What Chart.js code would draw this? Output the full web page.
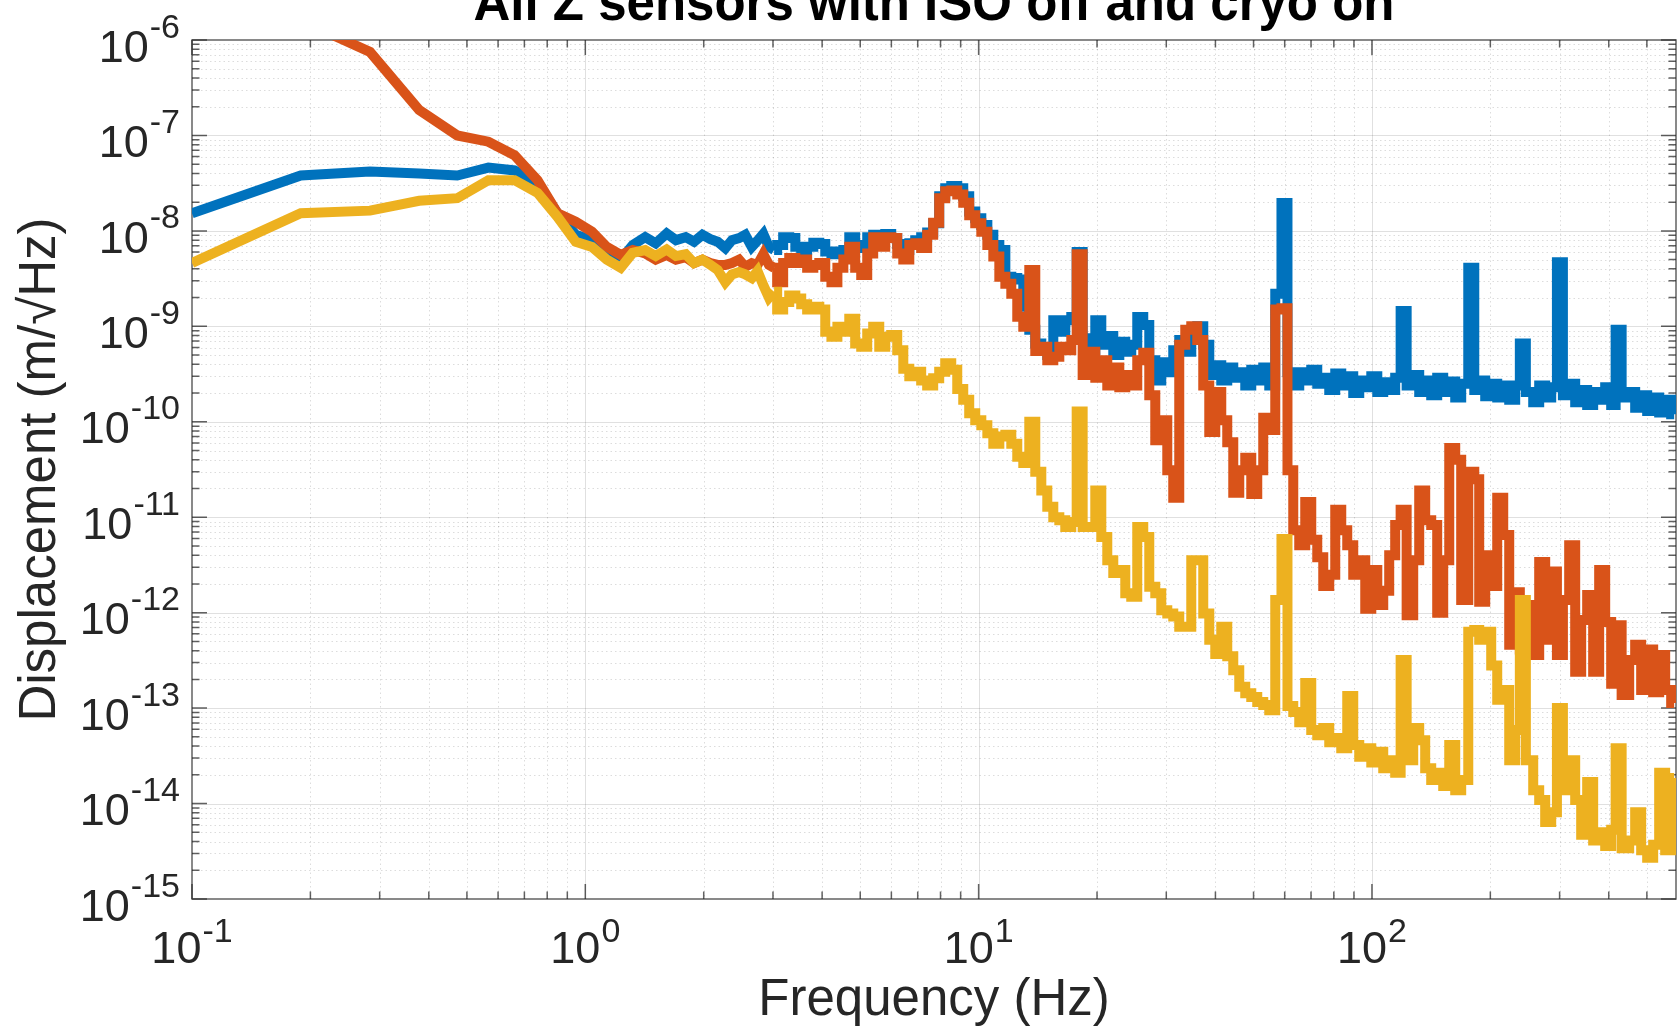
<!DOCTYPE html>
<html>
<head>
<meta charset="utf-8">
<title>All Z sensors with ISO off and cryo on</title>
<script src="https://cdn.jsdelivr.net/npm/chart.js@4.4.1/dist/chart.umd.min.js"></script>
<style>
  html, body { margin: 0; padding: 0; background: #ffffff; }
  #plot { display: block; }
</style>
</head>
<body>
<canvas id="plot" width="1678" height="1029"></canvas>
<script>
// Amplitude spectral density of the three vertical (Z) sensors, ISO off, cryo on.

const freqHz = [
  0.1, 0.189, 0.2835, 0.378, 0.4725, 0.567, 0.661, 0.756, 0.85, 0.945,
  1.04, 1.134, 1.23, 1.32, 1.42, 1.51, 1.61, 1.70, 1.80, 1.89,
  1.985, 2.08, 2.17, 2.27, 2.36, 2.46, 2.55, 2.65, 2.74, 2.835,
  2.93, 3.02,
  3.13, 3.24, 3.36, 3.48, 3.60, 3.73, 3.87, 4.00, 4.15, 4.30,
  4.45, 4.61, 4.77, 4.94, 5.12, 5.30, 5.49, 5.69, 5.89, 6.10,
  6.32, 6.55, 6.78, 7.02, 7.27, 7.53, 7.80, 8.08, 8.37, 8.67,
  8.98, 9.30, 9.63, 9.98, 10.34, 10.71, 11.09, 11.49, 11.90, 12.32,
  12.76, 13.22, 13.69, 14.18, 14.69, 15.21, 15.76, 16.32, 16.90, 17.51,
  18.0, 18.78, 19.45, 20.15, 20.87, 21.61, 22.39, 23.19, 24.01, 24.87,
  25.76, 26.68, 27.64, 28.62, 29.65, 30.71, 31.80, 32.94, 34.12, 35.34,
  36.60, 37.91, 39.27, 40.67, 42.12, 43.63, 45.19, 46.80, 48.48, 50.21,
  52.00, 53.86, 55.79, 57.78, 60.0, 61.99, 64.20, 66.50, 68.87, 71.34,
  73.89, 76.53, 79.26, 82.10, 85.03, 88.07, 91.22, 94.48, 97.86, 101.4,
  105.0, 108.7, 112.6, 116.6, 120.0, 125.1, 129.6, 134.2, 139.0, 144.0,
  149.1, 154.5, 160.0, 165.7, 171.6, 180.0, 184.1, 190.7, 197.5, 204.6,
  211.9, 219.5, 227.3, 235.4, 240.0, 252.6, 261.6, 270.9, 280.6, 290.7,
  300.0, 311.8, 322.9, 334.5, 346.4, 358.8, 371.6, 384.9, 398.7, 412.9,
  420.0, 443.0, 458.8, 475.2, 492.2, 509.8, 528.0, 546.9, 566.4, 586.7
];

// Sensor Z1 displacement, m/sqrt(Hz)
const zSensor1 = [
  1.53e-8, 3.8e-8, 4.2e-8, 4.0e-8, 3.8e-8, 4.6e-8, 4.3e-8, 3.15e-8, 1.53e-8, 9.1e-9,
  8.0e-9, 5.8e-9, 5.0e-9, 7.1e-9, 8.6e-9, 7.4e-9, 9.4e-9, 8.0e-9, 8.6e-9, 7.7e-9,
  9.1e-9, 8.2e-9, 7.7e-9, 6.6e-9, 8.0e-9, 8.4e-9, 9.1e-9, 6.8e-9, 7.9e-9, 9.3e-9,
  6.8e-9, 6.3e-9,
  7.1e-9, 8.6e-9, 8.4e-9, 6.8e-9, 6.3e-9, 6.8e-9, 7.5e-9, 7.3e-9, 6.1e-9, 5.7e-9,
  6.1e-9, 6.3e-9, 8.6e-9, 7.1e-9, 6.6e-9, 8.6e-9, 9.1e-9, 9.1e-9, 9.3e-9, 8.4e-9,
  7.3e-9, 6.3e-9, 7.4e-9, 8.0e-9, 8.6e-9, 9.6e-9, 1.2e-8, 2.3e-8, 2.8e-8, 2.95e-8,
  2.8e-8, 2.3e-8, 1.6e-8, 1.36e-8, 1.15e-8, 9.1e-9, 7.1e-9, 6.3e-9, 3.3e-9, 3.2e-9,
  3.1e-9, 1.6e-9, 9.2e-10, 6.6e-10, 5.6e-10, 5.0e-10, 1.16e-9, 8.8e-10, 1.16e-9, 1.25e-9,
  6.0e-9, 7.5e-10, 5.6e-10, 1.16e-9, 6.4e-10, 7.9e-10, 5.0e-10, 6.9e-10, 5.4e-10, 6.4e-10,
  1.25e-9, 1.03e-9, 4.4e-10, 2.7e-10, 4.2e-10, 3.3e-10, 5.6e-10, 7.2e-10, 5.4e-10, 9.2e-10,
  1.0e-9, 6.4e-10, 3.1e-10, 3.9e-10, 2.7e-10, 3.7e-10, 2.9e-10, 3.3e-10, 2.4e-10, 3.5e-10,
  2.7e-10, 3.7e-10, 2.4e-10, 2.2e-9, 1.96e-8, 3.3e-10, 2.4e-10, 3.3e-10, 2.7e-10, 3.5e-10,
  2.5e-10, 2.9e-10, 2.15e-10, 3.2e-10, 2.4e-10, 3.0e-10, 2.0e-10, 2.7e-10, 2.3e-10, 3.0e-10,
  2.05e-10, 2.6e-10, 2.15e-10, 2.9e-10, 1.45e-9, 2.4e-10, 3.1e-10, 2.05e-10, 2.7e-10, 1.9e-10,
  2.9e-10, 2.05e-10, 2.65e-10, 1.8e-10, 2.5e-10, 4.1e-9, 2.15e-10, 2.7e-10, 1.85e-10, 2.5e-10,
  1.8e-10, 2.4e-10, 1.7e-10, 2.4e-10, 6.6e-10, 2.05e-10, 1.6e-10, 2.4e-10, 1.8e-10, 2.3e-10,
  4.7e-9, 1.9e-10, 2.5e-10, 1.6e-10, 2.15e-10, 1.5e-10, 2.05e-10, 1.7e-10, 2.3e-10, 1.5e-10,
  9.2e-10, 1.8e-10, 2.05e-10, 1.4e-10, 1.9e-10, 1.3e-10, 1.8e-10, 1.25e-10, 1.7e-10, 1.2e-10
];

// Sensor Z2 displacement, m/sqrt(Hz)
const zSensor2 = [
  3.2e-6, 1.6e-6, 7.5e-7, 1.85e-7, 1.0e-7, 8.6e-8, 6.2e-8, 3.4e-8, 1.53e-8, 1.25e-8,
  9.8e-9, 6.8e-9, 5.6e-9, 6.3e-9, 5.8e-9, 5.0e-9, 5.6e-9, 5.0e-9, 5.3e-9, 4.6e-9,
  5.0e-9, 4.6e-9, 4.4e-9, 4.4e-9, 4.6e-9, 5.0e-9, 4.2e-9, 4.6e-9, 4.4e-9, 5.7e-9,
  4.4e-9, 4.1e-9,
  2.9e-9, 4.6e-9, 5.2e-9, 4.6e-9, 5.0e-9, 4.1e-9, 4.4e-9, 4.6e-9, 3.3e-9, 2.9e-9,
  4.1e-9, 5.0e-9, 6.8e-9, 4.1e-9, 3.45e-9, 5.8e-9, 8.6e-9, 6.8e-9, 8.6e-9, 8.4e-9,
  5.8e-9, 5.0e-9, 7.1e-9, 7.4e-9, 6.6e-9, 9.1e-9, 1.22e-8, 2.2e-8, 2.6e-8, 2.65e-8,
  2.4e-8, 1.97e-8, 1.46e-8, 1.2e-8, 9.8e-9, 7.1e-9, 5.4e-9, 3.3e-9, 2.8e-9, 2.2e-9,
  1.26e-9, 9.9e-10, 3.9e-9, 5.5e-10, 6.1e-10, 4.4e-10, 4.8e-10, 6.1e-10, 5.6e-10, 7.2e-10,
  5.7e-9, 3.1e-10, 5.4e-10, 2.9e-10, 4.4e-10, 2.4e-10, 3.7e-10, 2.3e-10, 3.1e-10, 2.4e-10,
  4.4e-10, 5.3e-10, 1.9e-10, 6.4e-11, 1.04e-10, 3.1e-11, 1.6e-11, 6.4e-10, 9.2e-10, 1.0e-9,
  7.2e-10, 2.4e-10, 7.8e-11, 2.05e-10, 1.04e-10, 6.1e-11, 1.8e-11, 3.1e-11, 4.2e-11, 1.75e-11,
  3.1e-11, 1.1e-10, 8.2e-11, 1.5e-9, 1.55e-9, 3.1e-11, 7.3e-12, 5.1e-12, 1.44e-11, 5.8e-12,
  3.8e-12, 1.9e-12, 2.5e-12, 1.2e-11, 7.3e-12, 5.1e-12, 2.5e-12, 3.55e-12, 1.1e-12, 2.8e-12,
  1.2e-12, 1.7e-12, 4.0e-12, 8.3e-12, 1.2e-11, 9.4e-13, 3.55e-12, 1.9e-11, 9.3e-12, 8.3e-12,
  1.0e-12, 3.55e-12, 5.3e-11, 4.0e-11, 1.36e-12, 3.0e-11, 2.5e-11, 1.3e-12, 4.0e-12, 1.9e-12,
  1.6e-11, 6.5e-12, 4.6e-13, 1.64e-12, 4.1e-13, 1.2e-12, 3.6e-13, 3.4e-12, 5.2e-13, 2.7e-12,
  3.6e-13, 1.36e-12, 5.1e-12, 2.4e-13, 8.4e-13, 1.53e-12, 2.4e-13, 2.8e-12, 8.0e-13, 1.8e-13,
  7.4e-13, 1.37e-13, 3.2e-13, 4.6e-13, 1.55e-13, 4.1e-13, 1.47e-13, 3.6e-13, 1.55e-13, 1.13e-13
];

// Sensor Z3 displacement, m/sqrt(Hz)
const zSensor3 = [
  4.6e-9, 1.53e-8, 1.63e-8, 2.07e-8, 2.2e-8, 3.4e-8, 3.4e-8, 2.5e-8, 1.4e-8, 7.7e-9,
  6.8e-9, 5.0e-9, 4.1e-9, 5.9e-9, 6.3e-9, 5.45e-9, 6.4e-9, 5.45e-9, 5.7e-9, 4.6e-9,
  5.0e-9, 4.4e-9, 3.9e-9, 2.9e-9, 3.5e-9, 3.7e-9, 3.5e-9, 3.2e-9, 3.8e-9, 2.7e-9,
  2.0e-9, 2.3e-9,
  1.5e-9, 1.8e-9, 2.1e-9, 1.96e-9, 1.7e-9, 1.5e-9, 1.6e-9, 1.5e-9, 8.8e-10, 7.8e-10,
  9.9e-10, 8.8e-10, 1.2e-9, 6.6e-10, 6.1e-10, 8.4e-10, 9.9e-10, 6.1e-10, 7.8e-10, 8.1e-10,
  5.6e-10, 3.6e-10, 3.0e-10, 3.35e-10, 2.7e-10, 2.4e-10, 2.85e-10, 3.35e-10, 4.1e-10, 3.5e-10,
  2.2e-10, 1.7e-10, 1.23e-10, 1.04e-10, 9.2e-11, 7.6e-11, 5.9e-11, 7.0e-11, 7.3e-11, 5.9e-11,
  4.3e-11, 3.7e-11, 1.0e-10, 3.0e-11, 1.9e-11, 1.29e-11, 1.0e-11, 9.3e-12, 7.9e-12, 8.9e-12,
  1.28e-10, 7.9e-12, 7.9e-12, 1.9e-11, 6.2e-12, 3.55e-12, 2.6e-12, 2.8e-12, 1.6e-12, 1.47e-12,
  7.9e-12, 6.2e-12, 1.87e-12, 1.6e-12, 1.06e-12, 9.8e-13, 9.1e-13, 7.1e-13, 7.1e-13, 3.55e-12,
  3.55e-12, 9.8e-13, 5.2e-13, 3.7e-13, 7.1e-13, 3.5e-13, 2.5e-13, 1.67e-13, 1.43e-13, 1.31e-13,
  1.16e-13, 1.08e-13, 9.5e-14, 1.36e-12, 5.9e-12, 1.05e-13, 9.1e-14, 7.1e-14, 1.83e-13, 5.9e-14,
  5.2e-14, 6.2e-14, 4.4e-14, 4.85e-14, 3.8e-14, 1.34e-13, 4.1e-14, 3.1e-14, 3.8e-14, 2.7e-14,
  3.5e-14, 2.35e-14, 2.85e-14, 2.1e-14, 3.2e-13, 2.85e-14, 6.2e-14, 4.6e-14, 2.35e-14, 1.76e-14,
  2.1e-14, 1.53e-14, 4.1e-14, 1.38e-14, 1.76e-14, 6.3e-13, 6.6e-13, 5.2e-13, 6.3e-13, 2.8e-13,
  1.22e-13, 1.55e-13, 2.85e-14, 5.9e-14, 1.36e-12, 2.85e-14, 1.38e-14, 1.09e-14, 6.4e-15, 8.1e-15,
  1.0e-13, 1.38e-14, 2.85e-14, 1.09e-14, 4.7e-15, 1.68e-14, 4.1e-15, 5.0e-15, 3.6e-15, 5.3e-15,
  3.8e-14, 3.4e-15, 4.1e-15, 8.1e-15, 3.25e-15, 2.7e-15, 3.7e-15, 2.1e-14, 3.25e-15, 1.85e-14
];

// Decade exponents that carry a "10^n" tick label
const xTickExponents = [-1, 0, 1, 2];
const yTickExponents = [-15, -14, -13, -12, -11, -10, -9, -8, -7, -6];

const chartTitle = 'All Z sensors with ISO off and cryo on';
const xAxisTitle = 'Frequency (Hz)';
const yAxisTitle = 'Displacement (m/\u221AHz)';

// above this index the spectrum is averaged into bins and drawn as steps
const binnedFromIndex = 31;

const FONT_FAMILY = '"Liberation Sans", Arial, Helvetica, sans-serif';
const TEXT_INK = '#262626';
const AXIS_INK = 'rgba(38,38,38,0.72)';
const MAJOR_GRID = 'rgba(38,38,38,0.14)';
const MINOR_GRID = 'rgba(38,38,38,0.16)';

const seriesStyle = [
  { label: 'Z sensor 1', values: zSensor1, color: '#0072BD', order: 3 },
  { label: 'Z sensor 2', values: zSensor2, color: '#D95319', order: 2 },
  { label: 'Z sensor 3', values: zSensor3, color: '#EDB120', order: 1 }
];

// 1..9 x 10^n positions inside a log axis range
function logGridValues(scale) {
  const out = [];
  const lo = Math.floor(Math.log10(scale.min));
  const hi = Math.ceil(Math.log10(scale.max));
  for (let e = lo; e <= hi; e++) {
    for (let m = 1; m <= 9; m++) {
      const v = m * Math.pow(10, e);
      if (v >= scale.min * 0.999999 && v <= scale.max * 1.000001) {
        out.push({ value: v, major: m === 1 });
      }
    }
  }
  return out;
}

// "10" with a raised exponent
function drawPowerLabel(ctx, exponent, anchorX, baseY, supY, align) {
  const baseText = '10';
  const supText = String(exponent);
  ctx.font = '45px ' + FONT_FAMILY;
  const wBase = ctx.measureText(baseText).width;
  ctx.font = '34px ' + FONT_FAMILY;
  const wSup = ctx.measureText(supText).width;
  const gap = 1;
  const total = wBase + gap + wSup;
  const left = align === 'right' ? anchorX - total : anchorX - total / 2;
  ctx.textAlign = 'left';
  ctx.textBaseline = 'alphabetic';
  ctx.font = '45px ' + FONT_FAMILY;
  ctx.fillText(baseText, left, baseY);
  ctx.font = '34px ' + FONT_FAMILY;
  ctx.fillText(supText, left + wBase + gap, supY);
}

const axesFrame = {
  id: 'axesFrame',
  beforeDatasetsDraw(chart) {
    const { ctx, chartArea: a, scales: { x, y } } = chart;
    ctx.save();

    // grid: dotted minor lines, solid major lines
    const gridLine = (major, x1, y1, x2, y2) => {
      ctx.strokeStyle = major ? MAJOR_GRID : MINOR_GRID;
      ctx.lineWidth = 1;
      ctx.setLineDash(major ? [] : [1.5, 3]);
      ctx.beginPath();
      ctx.moveTo(x1, y1);
      ctx.lineTo(x2, y2);
      ctx.stroke();
    };
    const xs = logGridValues(x);
    const ys = logGridValues(y);
    for (const t of xs) {
      const px = Math.round(x.getPixelForValue(t.value)) + 0.5;
      if (px <= a.left + 1 || px >= a.right - 1) continue;
      gridLine(t.major, px, a.top, px, a.bottom);
    }
    for (const t of ys) {
      const py = Math.round(y.getPixelForValue(t.value)) + 0.5;
      if (py <= a.top + 1 || py >= a.bottom - 1) continue;
      gridLine(t.major, a.left, py, a.right, py);
    }

    // axes box with inward ticks on all four sides
    ctx.setLineDash([]);
    ctx.strokeStyle = AXIS_INK;
    ctx.lineWidth = 1.5;
    ctx.strokeRect(a.left, a.top, a.right - a.left, a.bottom - a.top);
    const majorLen = 15, minorLen = 7.5;
    ctx.beginPath();
    for (const t of xs) {
      const px = x.getPixelForValue(t.value);
      const len = t.major ? majorLen : minorLen;
      ctx.moveTo(px, a.bottom); ctx.lineTo(px, a.bottom - len);
      ctx.moveTo(px, a.top); ctx.lineTo(px, a.top + len);
    }
    for (const t of ys) {
      const py = y.getPixelForValue(t.value);
      const len = t.major ? majorLen : minorLen;
      ctx.moveTo(a.left, py); ctx.lineTo(a.left + len, py);
      ctx.moveTo(a.right, py); ctx.lineTo(a.right - len, py);
    }
    ctx.stroke();
    ctx.restore();
  },
  afterDraw(chart) {
    const { ctx, chartArea: a, scales: { x, y } } = chart;
    ctx.save();
    ctx.fillStyle = TEXT_INK;
    for (const e of yTickExponents) {
      const py = y.getPixelForValue(Math.pow(10, e));
      drawPowerLabel(ctx, e, a.left - 12, py + 21.7, py - 2.5, 'right');
    }
    for (const e of xTickExponents) {
      const px = x.getPixelForValue(Math.pow(10, e));
      drawPowerLabel(ctx, e, px, a.bottom + 64, a.bottom + 43, 'center');
    }
    ctx.restore();
  }
};

function lineDataset(s, from, to, stepped) {
  const f = freqHz.slice(from, to);
  const v = s.values.slice(from, to);
  return {
    label: s.label,
    data: f.map((fx, i) => ({ x: fx, y: v[i] })),
    borderColor: s.color,
    backgroundColor: s.color,
    borderWidth: 10,
    borderJoinStyle: 'miter',
    borderCapStyle: 'butt',
    stepped: stepped ? 'middle' : false,
    pointRadius: 0,
    pointHoverRadius: 0,
    tension: 0,
    fill: false,
    order: s.order,
    clip: 0
  };
}

const datasets = [];
for (const s of seriesStyle) {
  datasets.push(lineDataset(s, 0, binnedFromIndex + 1, false));
  datasets.push(lineDataset(s, binnedFromIndex, freqHz.length, true));
}

new Chart(document.getElementById('plot'), {
  type: 'line',
  data: { datasets },
  options: {
    responsive: false,
    animation: false,
    devicePixelRatio: 1,
    parsing: false,
    events: [],
    layout: { padding: { left: 0, right: 2, top: 0, bottom: 0 } },
    plugins: {
      legend: { display: false },
      tooltip: { enabled: false },
      title: {
        display: true,
        text: chartTitle,
        fullSize: false,
        color: '#000000',
        font: { family: FONT_FAMILY, size: 51, weight: 'bold', lineHeight: 1.2 },
        padding: { top: -24.4, bottom: 3.2 }
      }
    },
    scales: {
      x: {
        type: 'logarithmic',
        min: 0.1,
        max: 593,
        ticks: { display: false },
        grid: { display: false, drawTicks: false },
        border: { display: false },
        title: {
          display: true,
          text: xAxisTitle,
          color: TEXT_INK,
          font: { family: FONT_FAMILY, size: 51, lineHeight: 1.2 },
          padding: { top: 71.8, bottom: -3 }
        }
      },
      y: {
        type: 'logarithmic',
        min: 1e-15,
        max: 1e-6,
        ticks: { display: false },
        grid: { display: false, drawTicks: false },
        border: { display: false },
        title: {
          display: true,
          text: yAxisTitle,
          color: TEXT_INK,
          font: { family: FONT_FAMILY, size: 51, lineHeight: 1.2 },
          padding: { top: 10, bottom: 120.8 }
        }
      }
    }
  },
  plugins: [axesFrame]
});
</script>
</body>
</html>
